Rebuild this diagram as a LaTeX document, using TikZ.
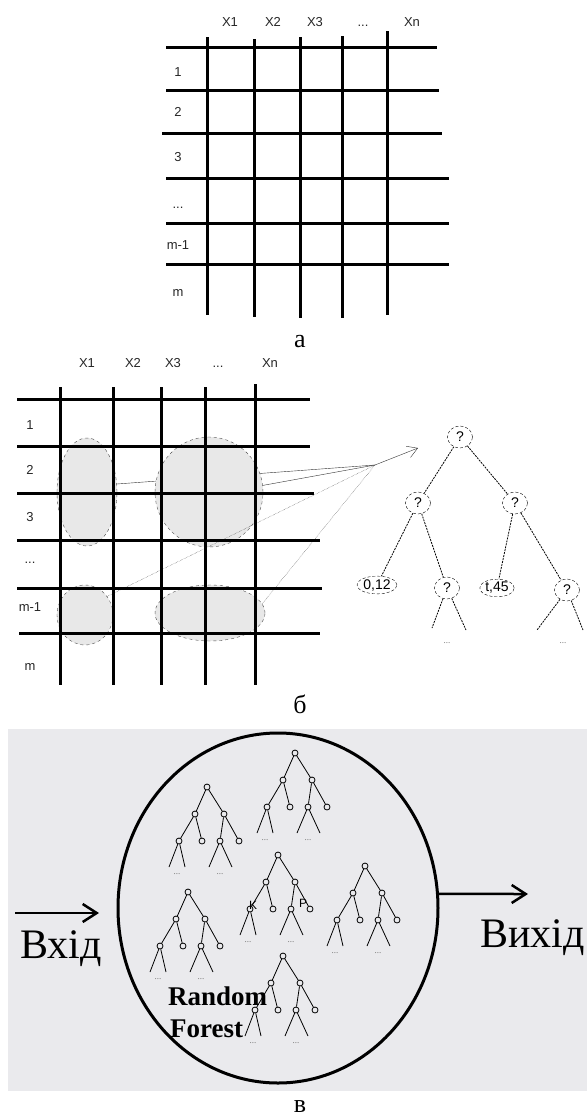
\documentclass[tikz,border=0pt]{standalone}
\usepackage{fontspec}
\setmainfont{Liberation Serif}
\setsansfont{Liberation Sans}
\usetikzlibrary{shapes.geometric, arrows.meta, positioning, calc}

\definecolor{panelgray}{RGB}{234,234,237}

\begin{document}
\begin{tikzpicture}[
    x=1pt, y=-1pt,
    gridline/.style={line width=3pt, line cap=rect},
    hdr/.style={font=\sffamily\fontsize{13}{15}\selectfont, text=black!85, inner sep=0pt},
    caption/.style={font=\fontsize{26}{28}\selectfont, inner sep=0pt, anchor=base},
    region/.style={ellipse, draw=black!70, dashed, thin, fill=gray!18, inner sep=0pt},
    link/.style={thin, draw=black!80},
    qnode/.style={ellipse, draw, densely dashed, thin, minimum width=25pt, minimum height=22pt, inner sep=0pt, font=\sffamily\fontsize{14}{14}\selectfont},
    qleaf/.style={ellipse, draw, densely dashed, thin, inner sep=0.5pt, font=\sffamily\fontsize{14}{14}\selectfont},
    qedge/.style={line width=0.8pt, dash pattern=on 2pt off 1pt},
    twig/.style={line width=0.8pt},
    knot/.style={circle, draw, line width=0.8pt, minimum size=6pt, inner sep=0pt},
    tiny/.style={font=\fontsize{9}{9}\selectfont, text=black!55, inner sep=0pt},
    bigarrow/.style={line width=2.5pt, -{Straight Barb[length=14pt, width=18pt]}},
    word/.style={font=\fontsize{42}{42}\selectfont, inner sep=0pt, anchor=base west},
    rf/.style={font=\bfseries\fontsize{27}{27}\selectfont, inner sep=0pt, anchor=base west},
    minitree/.pic={
        \node[knot] (-r) at (0,0) {};
        \node[knot] (-a) at (-12,27) {};
        \node[knot] (-b) at (17,27) {};
        \node[knot] (-aa) at (-28,54) {};
        \node[knot] (-ab) at (-5,54) {};
        \node[knot] (-ba) at (13,54) {};
        \node[knot] (-bb) at (32,54) {};
        \coordinate (-aa1) at (-38,80);
        \coordinate (-aa2) at (-22,80);
        \coordinate (-ba1) at (2,80);
        \coordinate (-ba2) at (25,80);
        \draw[twig] (-r) -- (-a) (-r) -- (-b)
                    (-a) -- (-aa) (-a) -- (-ab)
                    (-b) -- (-ba) (-b) -- (-bb)
                    (-aa) -- (-aa1) (-aa) -- (-aa2)
                    (-ba) -- (-ba1) (-ba) -- (-ba2);
        \node[tiny] (-d1) at (-30,87) {...};
        \node[tiny] (-d2) at (13,87) {...};
    }
]
\useasboundingbox (0,0) rectangle (587,1117);

% Panel a: data table
\draw[gridline] (207,38) -- (207,313) (254,40) -- (254,315) (300,38) -- (300,316)
                (342,37) -- (342,316) (387,32) -- (387,313);
\draw[gridline] (167,47) -- (435,47) (167,90) -- (437,90) (163,133) -- (440,133)
                (167,178) -- (447,178) (167,223) -- (447,223) (167,264) -- (447,264);

\node[hdr] (ax1) at (230,22) {X1};
\node[hdr] (ax2) at (273,22) {X2};
\node[hdr] (ax3) at (315,22) {X3};
\node[hdr] (axd) at (363,26) {...};
\node[hdr] (axn) at (412,22) {Xn};

\node[hdr] (ar1) at (178,72) {1};
\node[hdr] (ar2) at (178,112) {2};
\node[hdr] (ar3) at (178,157) {3};
\node[hdr] (ard) at (178,208) {...};
\node[hdr] (arm1) at (178,245) {m-1};
\node[hdr] (arm) at (178,293) {m};

\node[caption] (capa) at (300,347) {а};

% Panel b: sampled regions and one tree
\coordinate (apex) at (375,465);
\coordinate (tip) at (418,448);

\node[region, minimum width=60pt, minimum height=108pt] (e1) at (87,492) {};
\draw[link] (e1.15) -- (apex);
\node[region, minimum width=108pt, minimum height=110pt] (e2) at (209,492) {};
\node[region, minimum width=56pt, minimum height=60pt] (e3) at (85,615) {};
\node[region, minimum width=110pt, minimum height=56pt] (e4) at (210,613) {};
\draw[link] (e2.7) -- (apex);
\draw[link, densely dotted] (e3.40) -- (apex);
\draw[link, densely dotted] (e4.10) -- (apex);
\draw[link, -{Straight Barb[length=10pt, width=12pt]}] (apex) -- (tip);

\draw[gridline] (60,388) -- (60,683) (113,388) -- (113,683) (161,388) -- (161,683)
                (205,388) -- (205,683) (255,385) -- (255,683);
\draw[gridline] (18,399) -- (308,399) (18,446) -- (308,446) (18,493) -- (312,493)
                (18,540) -- (318,540) (18,588) -- (320,588) (20,633) -- (318,633);

\node[hdr] (bx1) at (87,363) {X1};
\node[hdr] (bx2) at (133,363) {X2};
\node[hdr] (bx3) at (173,363) {X3};
\node[hdr] (bxd) at (218,367) {...};
\node[hdr] (bxn) at (270,363) {Xn};

\node[hdr] (br1) at (30,425) {1};
\node[hdr] (br2) at (30,470) {2};
\node[hdr] (br3) at (30,517) {3};
\node[hdr] (brd) at (30,563) {...};
\node[hdr] (brm1) at (30,607) {m-1};
\node[hdr] (brm) at (30,667) {m};

\node[qnode] (q0) at (460,437) {?};
\node[qnode] (q1) at (418,503) {?};
\node[qnode] (q2) at (515,503) {?};
\node[qleaf] (v1) at (377,585) {0,12};
\node[qnode] (q3) at (447,588) {?};
\node[qleaf] (v2) at (497,588) {t,45};
\node[qnode] (q4) at (567,590) {?};
\coordinate (g1) at (432,628);
\coordinate (g2) at (466,630);
\coordinate (g3) at (537,630);
\coordinate (g4) at (583,630);
\draw[qedge] (q0) -- (q1) (q0) -- (q2) (q1) -- (v1) (q1) -- (q3)
             (q2) -- (v2) (q2) -- (q4) (q3) -- (g1) (q3) -- (g2)
             (q4) -- (g3) (q4) -- (g4);
\node[tiny] (qd1) at (447,643) {...};
\node[tiny] (qd2) at (563,643) {...};

\node[caption] (capb) at (300,713) {б};

% Panel c: the forest
\fill[panelgray] (8,729) rectangle (587,1091);
\node[ellipse, draw, line width=3pt, minimum width=320pt, minimum height=350pt] (forest) at (278,908) {};

\pic (ta) at (207,787) {minitree};
\pic (tb) at (295,753) {minitree};
\pic (tc) at (278,855) {minitree};
\pic (td) at (365,866) {minitree};
\pic (te) at (188,892) {minitree};
\pic (tf) at (283,956) {minitree};

\node[font=\sffamily\fontsize{12}{12}\selectfont, inner sep=0pt] (gk) at (253,905) {K};
\node[font=\sffamily\fontsize{12}{12}\selectfont, inner sep=0pt] (gp) at (303,903) {P};

\node[rf] (rf1) at (168,1005) {Random};
\node[rf] (rf2) at (170,1037) {Forest};

\coordinate (inA) at (15,913);
\coordinate (inB) at (99,913);
\coordinate (outB) at (528,894);
\draw[bigarrow] (inA) -- (inB);
\draw[bigarrow] (forest.5) -- (outB);

\node[word] (vin) at (20,958) {Вхід};
\node[word] (vout) at (480,947) {Вихід};

\node[caption] (capc) at (300,1112) {в};
\end{tikzpicture}
\end{document}
